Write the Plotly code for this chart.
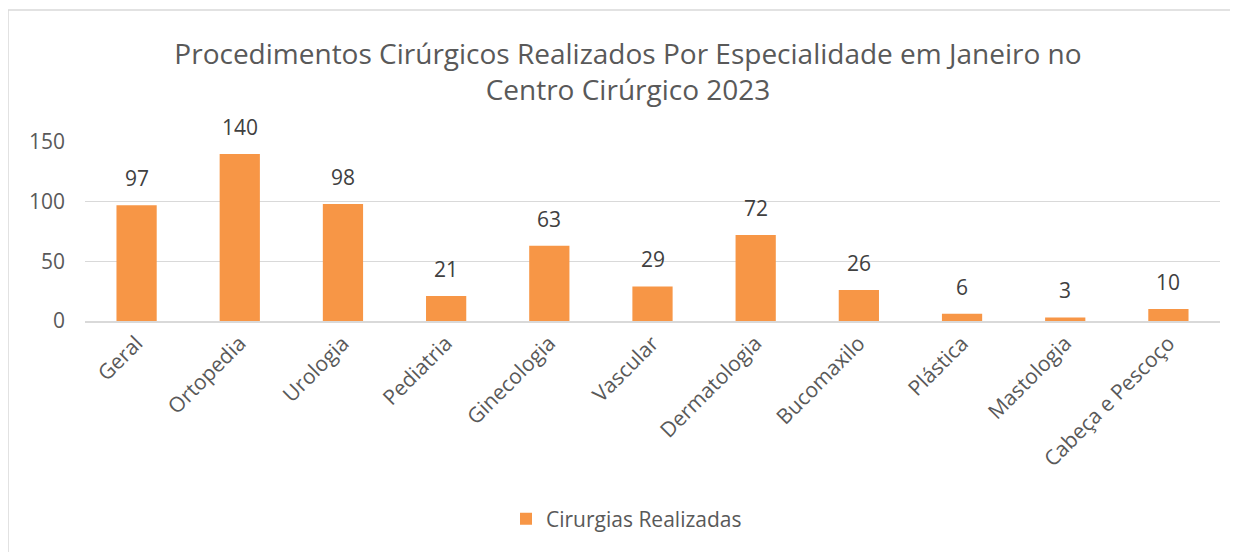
import plotly.graph_objects as go

categories = ["Geral", "Ortopedia", "Urologia", "Pediatria", "Ginecologia", "Vascular",
              "Dermatologia", "Bucomaxilo", "Plástica", "Mastologia", "Cabeça e Pescoço"]
values = [97, 140, 98, 21, 63, 29, 72, 26, 6, 3, 10]
series_name = "Cirurgias Realizadas"
y_ticks = [0, 50, 100, 150]
title_text = "Procedimentos Cirúrgicos Realizados Por Especialidade em Janeiro no<br>Centro Cirúrgico 2023"

FONT = "Open Sans"
GRAY = "#595959"
ORANGE = "#F79646"

# page body has an 8px margin; figure is sized so it ends at the window edge
W, H = 1230, 544
L, T, R = 77, 134, 18
PLOT_BOTTOM = 313
B = H - PLOT_BOTTOM
PW = W - L - R
PH = PLOT_BOTTOM - T

fig = go.Figure()
fig.add_trace(go.Bar(x=categories, y=values, name=series_name,
                     marker=dict(color=ORANGE, line=dict(width=0)),
                     showlegend=True))

for c, v in zip(categories, values):
    fig.add_annotation(x=c, y=v, text=str(v), showarrow=False, yanchor="bottom",
                       yshift=11, font=dict(family=FONT, size=21, color="#404040"))

fig.update_layout(
    width=W, height=H,
    margin=dict(l=L, r=R, t=T, b=B),
    paper_bgcolor="white", plot_bgcolor="white",
    bargap=0.61,
    title=dict(text=title_text, x=(620 - L) / PW, xref="paper", xanchor="center",
               y=1 - 56 / H, yanchor="middle",
               font=dict(family=FONT, size=28, color=GRAY)),
    font=dict(family=FONT, color=GRAY),
    xaxis=dict(tickangle=-45, tickfont=dict(family=FONT, size=21, color=GRAY),
               showgrid=False, showline=True, linecolor="#D9D9D9", linewidth=1.5,
               ticks=""),
    yaxis=dict(range=[0, 150], tickvals=y_ticks, tickfont=dict(family=FONT, size=21, color=GRAY),
               showgrid=True, gridcolor="#D9D9D9", gridwidth=1.3, zeroline=False,
               showline=False, ticks="", ticklabelstandoff=19),
    legend=dict(orientation="h", x=0.5 - 26 / PW, xanchor="center", y=(PLOT_BOTTOM - 511) / PH, yanchor="middle",
                font=dict(family=FONT, size=21, color=GRAY), itemwidth=30),
)

# chart border (left and top edges visible)
fig.add_shape(type="rect", xref="paper", yref="paper",
              x0=(0 - L) / PW, x1=(1250 - L) / PW,
              y0=(PLOT_BOTTOM - 560) / PH, y1=(PLOT_BOTTOM - 2) / PH,
              line=dict(color="#D9D9D9", width=1.5), layer="below")

fig.write_html("out.html")
